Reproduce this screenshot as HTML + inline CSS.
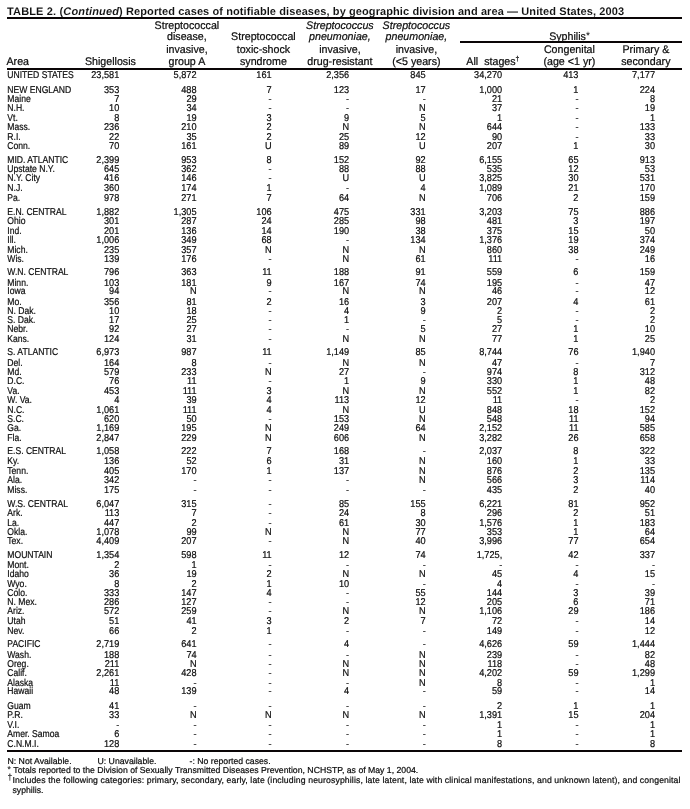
<!DOCTYPE html>
<html><head><meta charset="utf-8"><style>
html,body{margin:0;padding:0;background:#fff;width:690px;height:809px;overflow:hidden}
svg{display:block;will-change:transform}
text{font-family:"Liberation Sans",sans-serif;fill:#111;text-rendering:geometricPrecision}
.tt{font-size:11px;font-weight:bold;stroke:#fff;stroke-width:0.05px;letter-spacing:0.15px}
.hd{font-size:11px;text-anchor:middle;stroke:#000;stroke-width:0.22px}
.hdi{font-size:11px;text-anchor:middle;font-style:italic;stroke:#000;stroke-width:0.22px}
.hdl{font-size:11px;stroke:#000;stroke-width:0.22px}
.sup{font-size:7px}
.sup2{font-size:10.5px;stroke-width:0}
.lb{font-size:9.9px;stroke:#000;stroke-width:0.2px}
.nm{font-size:9.9px;text-anchor:end;stroke:#000;stroke-width:0.2px}
.ft{font-size:8.7px;stroke:#000;stroke-width:0.2px}
.fts{font-size:8.5px;stroke:#000;stroke-width:0.1px}
</style></head><body>
<svg width="690" height="809" viewBox="0 0 690 809">
<text x="7.00" y="15.00" class="tt">TABLE 2. (<tspan font-style="italic">Continued</tspan>)<tspan textLength="501.30" lengthAdjust="spacing"> Reported cases of notifiable diseases, by geographic division and area &#8212; United States, 2003</tspan></text>
<rect x="7" y="17" width="675" height="2" fill="#0a0506"/>
<rect x="460" y="41" width="222" height="2" fill="#0a0506"/>
<rect x="7" y="68" width="675" height="2" fill="#0a0506"/>
<rect x="7" y="750" width="675" height="2" fill="#0a0506"/>
<g transform="scale(0.97,1)">
<text x="6.70" y="64.50" class="hdl">Area</text>
<text x="113.81" y="64.50" class="hd">Shigellosis</text>
<text x="192.68" y="28.80" class="hd">Streptococcal</text>
<text x="192.68" y="39.70" class="hd">disease,</text>
<text x="192.68" y="52.70" class="hd">invasive,</text>
<text x="192.68" y="64.50" class="hd">group A</text>
<text x="271.55" y="39.70" class="hd">Streptococcal</text>
<text x="271.55" y="52.70" class="hd">toxic-shock</text>
<text x="271.55" y="64.50" class="hd">syndrome</text>
<text x="350.41" y="28.80" class="hdi">Streptococcus</text>
<text x="350.41" y="39.70" class="hdi">pneumoniae,</text>
<text x="350.41" y="52.70" class="hd">invasive,</text>
<text x="350.41" y="64.50" class="hd">drug-resistant</text>
<text x="429.28" y="28.80" class="hdi">Streptococcus</text>
<text x="429.28" y="39.70" class="hdi">pneumoniae,</text>
<text x="429.28" y="52.70" class="hd">invasive,</text>
<text x="429.28" y="64.50" class="hd">(&lt;5 years)</text>
<text x="587.11" y="39.70" class="hd">Syphilis<tspan class="sup2" dy="-0.8">*</tspan></text>
<text x="508.14" y="64.50" class="hd">All&#160;&#160;stages<tspan class="sup" dy="-3.5">&#8224;</tspan></text>
<text x="587.01" y="52.70" class="hd">Congenital</text>
<text x="587.01" y="64.50" class="hd">(age &lt;1 yr)</text>
<text x="665.88" y="52.70" class="hd">Primary &amp;</text>
<text x="665.88" y="64.50" class="hd">secondary</text>
</g>
<g transform="scale(0.87,1)">
<text x="8.39" y="78.00" class="lb">UNITED STATES</text>
<text x="8.39" y="93.00" class="lb">NEW ENGLAND</text>
<text x="8.39" y="102.00" class="lb">Maine</text>
<text x="8.39" y="111.00" class="lb">N.H.</text>
<text x="8.39" y="121.00" class="lb">Vt.</text>
<text x="8.39" y="130.00" class="lb">Mass.</text>
<text x="8.39" y="140.00" class="lb">R.I.</text>
<text x="8.39" y="149.00" class="lb">Conn.</text>
<text x="8.39" y="163.00" class="lb">MID. ATLANTIC</text>
<text x="8.39" y="172.00" class="lb">Upstate N.Y.</text>
<text x="8.39" y="181.00" class="lb">N.Y. City</text>
<text x="8.39" y="191.00" class="lb">N.J.</text>
<text x="8.39" y="201.00" class="lb">Pa.</text>
<text x="8.39" y="215.00" class="lb">E.N. CENTRAL</text>
<text x="8.39" y="224.00" class="lb">Ohio</text>
<text x="8.39" y="234.00" class="lb">Ind.</text>
<text x="8.39" y="243.00" class="lb">Ill.</text>
<text x="8.39" y="253.00" class="lb">Mich.</text>
<text x="8.39" y="262.00" class="lb">Wis.</text>
<text x="8.39" y="275.00" class="lb">W.N. CENTRAL</text>
<text x="8.39" y="286.00" class="lb">Minn.</text>
<text x="8.39" y="294.00" class="lb">Iowa</text>
<text x="8.39" y="305.00" class="lb">Mo.</text>
<text x="8.39" y="314.00" class="lb">N. Dak.</text>
<text x="8.39" y="323.00" class="lb">S. Dak.</text>
<text x="8.39" y="332.00" class="lb">Nebr.</text>
<text x="8.39" y="342.00" class="lb">Kans.</text>
<text x="8.39" y="355.00" class="lb">S. ATLANTIC</text>
<text x="8.39" y="366.00" class="lb">Del.</text>
<text x="8.39" y="375.00" class="lb">Md.</text>
<text x="8.39" y="384.00" class="lb">D.C.</text>
<text x="8.39" y="394.00" class="lb">Va.</text>
<text x="8.39" y="403.00" class="lb">W. Va.</text>
<text x="8.39" y="413.00" class="lb">N.C.</text>
<text x="8.39" y="422.00" class="lb">S.C.</text>
<text x="8.39" y="431.00" class="lb">Ga.</text>
<text x="8.39" y="441.00" class="lb">Fla.</text>
<text x="8.39" y="454.00" class="lb">E.S. CENTRAL</text>
<text x="8.39" y="464.00" class="lb">Ky.</text>
<text x="8.39" y="474.00" class="lb">Tenn.</text>
<text x="8.39" y="483.00" class="lb">Ala.</text>
<text x="8.39" y="493.00" class="lb">Miss.</text>
<text x="8.39" y="507.00" class="lb">W.S. CENTRAL</text>
<text x="8.39" y="516.00" class="lb">Ark.</text>
<text x="8.39" y="526.00" class="lb">La.</text>
<text x="8.39" y="535.00" class="lb">Okla.</text>
<text x="8.39" y="544.00" class="lb">Tex.</text>
<text x="8.39" y="558.00" class="lb">MOUNTAIN</text>
<text x="8.39" y="568.00" class="lb">Mont.</text>
<text x="8.39" y="577.00" class="lb">Idaho</text>
<text x="8.39" y="587.00" class="lb">Wyo.</text>
<text x="8.39" y="596.00" class="lb">Colo.</text>
<text x="8.39" y="605.00" class="lb">N. Mex.</text>
<text x="8.39" y="614.00" class="lb">Ariz.</text>
<text x="8.39" y="624.00" class="lb">Utah</text>
<text x="8.39" y="634.00" class="lb">Nev.</text>
<text x="8.39" y="647.00" class="lb">PACIFIC</text>
<text x="8.39" y="658.00" class="lb">Wash.</text>
<text x="8.39" y="667.00" class="lb">Oreg.</text>
<text x="8.39" y="676.00" class="lb">Calif.</text>
<text x="8.39" y="686.00" class="lb">Alaska</text>
<text x="8.39" y="694.00" class="lb">Hawaii</text>
<text x="8.39" y="709.00" class="lb">Guam</text>
<text x="8.39" y="718.00" class="lb">P.R.</text>
<text x="8.39" y="728.00" class="lb">V.I.</text>
<text x="8.39" y="737.00" class="lb">Amer. Samoa</text>
<text x="8.39" y="747.00" class="lb">C.N.M.I.</text>
</g>
<g transform="scale(0.93,1)">
<text x="128.28" y="78.00" class="nm">23,581</text>
<text x="211.40" y="78.00" class="nm">5,872</text>
<text x="292.15" y="78.00" class="nm">161</text>
<text x="375.48" y="78.00" class="nm">2,356</text>
<text x="457.74" y="78.00" class="nm">845</text>
<text x="540.00" y="78.00" class="nm">34,270</text>
<text x="622.04" y="78.00" class="nm">413</text>
<text x="704.30" y="78.00" class="nm">7,177</text>
<text x="128.28" y="93.00" class="nm">353</text>
<text x="211.40" y="93.00" class="nm">488</text>
<text x="292.15" y="93.00" class="nm">7</text>
<text x="375.48" y="93.00" class="nm">123</text>
<text x="457.74" y="93.00" class="nm">17</text>
<text x="540.00" y="93.00" class="nm">1,000</text>
<text x="622.04" y="93.00" class="nm">1</text>
<text x="704.30" y="93.00" class="nm">224</text>
<text x="128.28" y="102.00" class="nm">7</text>
<text x="211.40" y="102.00" class="nm">29</text>
<text x="292.15" y="102.00" class="nm">-</text>
<text x="375.48" y="102.00" class="nm">-</text>
<text x="457.74" y="102.00" class="nm">-</text>
<text x="540.00" y="102.00" class="nm">21</text>
<text x="622.04" y="102.00" class="nm">-</text>
<text x="704.30" y="102.00" class="nm">8</text>
<text x="128.28" y="111.00" class="nm">10</text>
<text x="211.40" y="111.00" class="nm">34</text>
<text x="292.15" y="111.00" class="nm">-</text>
<text x="375.48" y="111.00" class="nm">-</text>
<text x="457.74" y="111.00" class="nm">N</text>
<text x="540.00" y="111.00" class="nm">37</text>
<text x="622.04" y="111.00" class="nm">-</text>
<text x="704.30" y="111.00" class="nm">19</text>
<text x="128.28" y="121.00" class="nm">8</text>
<text x="211.40" y="121.00" class="nm">19</text>
<text x="292.15" y="121.00" class="nm">3</text>
<text x="375.48" y="121.00" class="nm">9</text>
<text x="457.74" y="121.00" class="nm">5</text>
<text x="540.00" y="121.00" class="nm">1</text>
<text x="622.04" y="121.00" class="nm">-</text>
<text x="704.30" y="121.00" class="nm">1</text>
<text x="128.28" y="130.00" class="nm">236</text>
<text x="211.40" y="130.00" class="nm">210</text>
<text x="292.15" y="130.00" class="nm">2</text>
<text x="375.48" y="130.00" class="nm">N</text>
<text x="457.74" y="130.00" class="nm">N</text>
<text x="540.00" y="130.00" class="nm">644</text>
<text x="622.04" y="130.00" class="nm">-</text>
<text x="704.30" y="130.00" class="nm">133</text>
<text x="128.28" y="140.00" class="nm">22</text>
<text x="211.40" y="140.00" class="nm">35</text>
<text x="292.15" y="140.00" class="nm">2</text>
<text x="375.48" y="140.00" class="nm">25</text>
<text x="457.74" y="140.00" class="nm">12</text>
<text x="540.00" y="140.00" class="nm">90</text>
<text x="622.04" y="140.00" class="nm">-</text>
<text x="704.30" y="140.00" class="nm">33</text>
<text x="128.28" y="149.00" class="nm">70</text>
<text x="211.40" y="149.00" class="nm">161</text>
<text x="292.15" y="149.00" class="nm">U</text>
<text x="375.48" y="149.00" class="nm">89</text>
<text x="457.74" y="149.00" class="nm">U</text>
<text x="540.00" y="149.00" class="nm">207</text>
<text x="622.04" y="149.00" class="nm">1</text>
<text x="704.30" y="149.00" class="nm">30</text>
<text x="128.28" y="163.00" class="nm">2,399</text>
<text x="211.40" y="163.00" class="nm">953</text>
<text x="292.15" y="163.00" class="nm">8</text>
<text x="375.48" y="163.00" class="nm">152</text>
<text x="457.74" y="163.00" class="nm">92</text>
<text x="540.00" y="163.00" class="nm">6,155</text>
<text x="622.04" y="163.00" class="nm">65</text>
<text x="704.30" y="163.00" class="nm">913</text>
<text x="128.28" y="172.00" class="nm">645</text>
<text x="211.40" y="172.00" class="nm">362</text>
<text x="292.15" y="172.00" class="nm">-</text>
<text x="375.48" y="172.00" class="nm">88</text>
<text x="457.74" y="172.00" class="nm">88</text>
<text x="540.00" y="172.00" class="nm">535</text>
<text x="622.04" y="172.00" class="nm">12</text>
<text x="704.30" y="172.00" class="nm">53</text>
<text x="128.28" y="181.00" class="nm">416</text>
<text x="211.40" y="181.00" class="nm">146</text>
<text x="292.15" y="181.00" class="nm">-</text>
<text x="375.48" y="181.00" class="nm">U</text>
<text x="457.74" y="181.00" class="nm">U</text>
<text x="540.00" y="181.00" class="nm">3,825</text>
<text x="622.04" y="181.00" class="nm">30</text>
<text x="704.30" y="181.00" class="nm">531</text>
<text x="128.28" y="191.00" class="nm">360</text>
<text x="211.40" y="191.00" class="nm">174</text>
<text x="292.15" y="191.00" class="nm">1</text>
<text x="375.48" y="191.00" class="nm">-</text>
<text x="457.74" y="191.00" class="nm">4</text>
<text x="540.00" y="191.00" class="nm">1,089</text>
<text x="622.04" y="191.00" class="nm">21</text>
<text x="704.30" y="191.00" class="nm">170</text>
<text x="128.28" y="201.00" class="nm">978</text>
<text x="211.40" y="201.00" class="nm">271</text>
<text x="292.15" y="201.00" class="nm">7</text>
<text x="375.48" y="201.00" class="nm">64</text>
<text x="457.74" y="201.00" class="nm">N</text>
<text x="540.00" y="201.00" class="nm">706</text>
<text x="622.04" y="201.00" class="nm">2</text>
<text x="704.30" y="201.00" class="nm">159</text>
<text x="128.28" y="215.00" class="nm">1,882</text>
<text x="211.40" y="215.00" class="nm">1,305</text>
<text x="292.15" y="215.00" class="nm">106</text>
<text x="375.48" y="215.00" class="nm">475</text>
<text x="457.74" y="215.00" class="nm">331</text>
<text x="540.00" y="215.00" class="nm">3,203</text>
<text x="622.04" y="215.00" class="nm">75</text>
<text x="704.30" y="215.00" class="nm">886</text>
<text x="128.28" y="224.00" class="nm">301</text>
<text x="211.40" y="224.00" class="nm">287</text>
<text x="292.15" y="224.00" class="nm">24</text>
<text x="375.48" y="224.00" class="nm">285</text>
<text x="457.74" y="224.00" class="nm">98</text>
<text x="540.00" y="224.00" class="nm">481</text>
<text x="622.04" y="224.00" class="nm">3</text>
<text x="704.30" y="224.00" class="nm">197</text>
<text x="128.28" y="234.00" class="nm">201</text>
<text x="211.40" y="234.00" class="nm">136</text>
<text x="292.15" y="234.00" class="nm">14</text>
<text x="375.48" y="234.00" class="nm">190</text>
<text x="457.74" y="234.00" class="nm">38</text>
<text x="540.00" y="234.00" class="nm">375</text>
<text x="622.04" y="234.00" class="nm">15</text>
<text x="704.30" y="234.00" class="nm">50</text>
<text x="128.28" y="243.00" class="nm">1,006</text>
<text x="211.40" y="243.00" class="nm">349</text>
<text x="292.15" y="243.00" class="nm">68</text>
<text x="375.48" y="243.00" class="nm">-</text>
<text x="457.74" y="243.00" class="nm">134</text>
<text x="540.00" y="243.00" class="nm">1,376</text>
<text x="622.04" y="243.00" class="nm">19</text>
<text x="704.30" y="243.00" class="nm">374</text>
<text x="128.28" y="253.00" class="nm">235</text>
<text x="211.40" y="253.00" class="nm">357</text>
<text x="292.15" y="253.00" class="nm">N</text>
<text x="375.48" y="253.00" class="nm">N</text>
<text x="457.74" y="253.00" class="nm">N</text>
<text x="540.00" y="253.00" class="nm">860</text>
<text x="622.04" y="253.00" class="nm">38</text>
<text x="704.30" y="253.00" class="nm">249</text>
<text x="128.28" y="262.00" class="nm">139</text>
<text x="211.40" y="262.00" class="nm">176</text>
<text x="292.15" y="262.00" class="nm">-</text>
<text x="375.48" y="262.00" class="nm">N</text>
<text x="457.74" y="262.00" class="nm">61</text>
<text x="540.00" y="262.00" class="nm">111</text>
<text x="622.04" y="262.00" class="nm">-</text>
<text x="704.30" y="262.00" class="nm">16</text>
<text x="128.28" y="275.00" class="nm">796</text>
<text x="211.40" y="275.00" class="nm">363</text>
<text x="292.15" y="275.00" class="nm">11</text>
<text x="375.48" y="275.00" class="nm">188</text>
<text x="457.74" y="275.00" class="nm">91</text>
<text x="540.00" y="275.00" class="nm">559</text>
<text x="622.04" y="275.00" class="nm">6</text>
<text x="704.30" y="275.00" class="nm">159</text>
<text x="128.28" y="286.00" class="nm">103</text>
<text x="211.40" y="286.00" class="nm">181</text>
<text x="292.15" y="286.00" class="nm">9</text>
<text x="375.48" y="286.00" class="nm">167</text>
<text x="457.74" y="286.00" class="nm">74</text>
<text x="540.00" y="286.00" class="nm">195</text>
<text x="622.04" y="286.00" class="nm">-</text>
<text x="704.30" y="286.00" class="nm">47</text>
<text x="128.28" y="294.00" class="nm">94</text>
<text x="211.40" y="294.00" class="nm">N</text>
<text x="292.15" y="294.00" class="nm">-</text>
<text x="375.48" y="294.00" class="nm">N</text>
<text x="457.74" y="294.00" class="nm">N</text>
<text x="540.00" y="294.00" class="nm">46</text>
<text x="622.04" y="294.00" class="nm">-</text>
<text x="704.30" y="294.00" class="nm">12</text>
<text x="128.28" y="305.00" class="nm">356</text>
<text x="211.40" y="305.00" class="nm">81</text>
<text x="292.15" y="305.00" class="nm">2</text>
<text x="375.48" y="305.00" class="nm">16</text>
<text x="457.74" y="305.00" class="nm">3</text>
<text x="540.00" y="305.00" class="nm">207</text>
<text x="622.04" y="305.00" class="nm">4</text>
<text x="704.30" y="305.00" class="nm">61</text>
<text x="128.28" y="314.00" class="nm">10</text>
<text x="211.40" y="314.00" class="nm">18</text>
<text x="292.15" y="314.00" class="nm">-</text>
<text x="375.48" y="314.00" class="nm">4</text>
<text x="457.74" y="314.00" class="nm">9</text>
<text x="540.00" y="314.00" class="nm">2</text>
<text x="622.04" y="314.00" class="nm">-</text>
<text x="704.30" y="314.00" class="nm">2</text>
<text x="128.28" y="323.00" class="nm">17</text>
<text x="211.40" y="323.00" class="nm">25</text>
<text x="292.15" y="323.00" class="nm">-</text>
<text x="375.48" y="323.00" class="nm">1</text>
<text x="457.74" y="323.00" class="nm">-</text>
<text x="540.00" y="323.00" class="nm">5</text>
<text x="622.04" y="323.00" class="nm">-</text>
<text x="704.30" y="323.00" class="nm">2</text>
<text x="128.28" y="332.00" class="nm">92</text>
<text x="211.40" y="332.00" class="nm">27</text>
<text x="292.15" y="332.00" class="nm">-</text>
<text x="375.48" y="332.00" class="nm">-</text>
<text x="457.74" y="332.00" class="nm">5</text>
<text x="540.00" y="332.00" class="nm">27</text>
<text x="622.04" y="332.00" class="nm">1</text>
<text x="704.30" y="332.00" class="nm">10</text>
<text x="128.28" y="342.00" class="nm">124</text>
<text x="211.40" y="342.00" class="nm">31</text>
<text x="292.15" y="342.00" class="nm">-</text>
<text x="375.48" y="342.00" class="nm">N</text>
<text x="457.74" y="342.00" class="nm">N</text>
<text x="540.00" y="342.00" class="nm">77</text>
<text x="622.04" y="342.00" class="nm">1</text>
<text x="704.30" y="342.00" class="nm">25</text>
<text x="128.28" y="355.00" class="nm">6,973</text>
<text x="211.40" y="355.00" class="nm">987</text>
<text x="292.15" y="355.00" class="nm">11</text>
<text x="375.48" y="355.00" class="nm">1,149</text>
<text x="457.74" y="355.00" class="nm">85</text>
<text x="540.00" y="355.00" class="nm">8,744</text>
<text x="622.04" y="355.00" class="nm">76</text>
<text x="704.30" y="355.00" class="nm">1,940</text>
<text x="128.28" y="366.00" class="nm">164</text>
<text x="211.40" y="366.00" class="nm">8</text>
<text x="292.15" y="366.00" class="nm">-</text>
<text x="375.48" y="366.00" class="nm">N</text>
<text x="457.74" y="366.00" class="nm">N</text>
<text x="540.00" y="366.00" class="nm">47</text>
<text x="622.04" y="366.00" class="nm">-</text>
<text x="704.30" y="366.00" class="nm">7</text>
<text x="128.28" y="375.00" class="nm">579</text>
<text x="211.40" y="375.00" class="nm">233</text>
<text x="292.15" y="375.00" class="nm">N</text>
<text x="375.48" y="375.00" class="nm">27</text>
<text x="457.74" y="375.00" class="nm">-</text>
<text x="540.00" y="375.00" class="nm">974</text>
<text x="622.04" y="375.00" class="nm">8</text>
<text x="704.30" y="375.00" class="nm">312</text>
<text x="128.28" y="384.00" class="nm">76</text>
<text x="211.40" y="384.00" class="nm">11</text>
<text x="292.15" y="384.00" class="nm">-</text>
<text x="375.48" y="384.00" class="nm">1</text>
<text x="457.74" y="384.00" class="nm">9</text>
<text x="540.00" y="384.00" class="nm">330</text>
<text x="622.04" y="384.00" class="nm">1</text>
<text x="704.30" y="384.00" class="nm">48</text>
<text x="128.28" y="394.00" class="nm">453</text>
<text x="211.40" y="394.00" class="nm">111</text>
<text x="292.15" y="394.00" class="nm">3</text>
<text x="375.48" y="394.00" class="nm">N</text>
<text x="457.74" y="394.00" class="nm">N</text>
<text x="540.00" y="394.00" class="nm">552</text>
<text x="622.04" y="394.00" class="nm">1</text>
<text x="704.30" y="394.00" class="nm">82</text>
<text x="128.28" y="403.00" class="nm">4</text>
<text x="211.40" y="403.00" class="nm">39</text>
<text x="292.15" y="403.00" class="nm">4</text>
<text x="375.48" y="403.00" class="nm">113</text>
<text x="457.74" y="403.00" class="nm">12</text>
<text x="540.00" y="403.00" class="nm">11</text>
<text x="622.04" y="403.00" class="nm">-</text>
<text x="704.30" y="403.00" class="nm">2</text>
<text x="128.28" y="413.00" class="nm">1,061</text>
<text x="211.40" y="413.00" class="nm">111</text>
<text x="292.15" y="413.00" class="nm">4</text>
<text x="375.48" y="413.00" class="nm">N</text>
<text x="457.74" y="413.00" class="nm">U</text>
<text x="540.00" y="413.00" class="nm">848</text>
<text x="622.04" y="413.00" class="nm">18</text>
<text x="704.30" y="413.00" class="nm">152</text>
<text x="128.28" y="422.00" class="nm">620</text>
<text x="211.40" y="422.00" class="nm">50</text>
<text x="292.15" y="422.00" class="nm">-</text>
<text x="375.48" y="422.00" class="nm">153</text>
<text x="457.74" y="422.00" class="nm">N</text>
<text x="540.00" y="422.00" class="nm">548</text>
<text x="622.04" y="422.00" class="nm">11</text>
<text x="704.30" y="422.00" class="nm">94</text>
<text x="128.28" y="431.00" class="nm">1,169</text>
<text x="211.40" y="431.00" class="nm">195</text>
<text x="292.15" y="431.00" class="nm">N</text>
<text x="375.48" y="431.00" class="nm">249</text>
<text x="457.74" y="431.00" class="nm">64</text>
<text x="540.00" y="431.00" class="nm">2,152</text>
<text x="622.04" y="431.00" class="nm">11</text>
<text x="704.30" y="431.00" class="nm">585</text>
<text x="128.28" y="441.00" class="nm">2,847</text>
<text x="211.40" y="441.00" class="nm">229</text>
<text x="292.15" y="441.00" class="nm">N</text>
<text x="375.48" y="441.00" class="nm">606</text>
<text x="457.74" y="441.00" class="nm">N</text>
<text x="540.00" y="441.00" class="nm">3,282</text>
<text x="622.04" y="441.00" class="nm">26</text>
<text x="704.30" y="441.00" class="nm">658</text>
<text x="128.28" y="454.00" class="nm">1,058</text>
<text x="211.40" y="454.00" class="nm">222</text>
<text x="292.15" y="454.00" class="nm">7</text>
<text x="375.48" y="454.00" class="nm">168</text>
<text x="457.74" y="454.00" class="nm">-</text>
<text x="540.00" y="454.00" class="nm">2,037</text>
<text x="622.04" y="454.00" class="nm">8</text>
<text x="704.30" y="454.00" class="nm">322</text>
<text x="128.28" y="464.00" class="nm">136</text>
<text x="211.40" y="464.00" class="nm">52</text>
<text x="292.15" y="464.00" class="nm">6</text>
<text x="375.48" y="464.00" class="nm">31</text>
<text x="457.74" y="464.00" class="nm">N</text>
<text x="540.00" y="464.00" class="nm">160</text>
<text x="622.04" y="464.00" class="nm">1</text>
<text x="704.30" y="464.00" class="nm">33</text>
<text x="128.28" y="474.00" class="nm">405</text>
<text x="211.40" y="474.00" class="nm">170</text>
<text x="292.15" y="474.00" class="nm">1</text>
<text x="375.48" y="474.00" class="nm">137</text>
<text x="457.74" y="474.00" class="nm">N</text>
<text x="540.00" y="474.00" class="nm">876</text>
<text x="622.04" y="474.00" class="nm">2</text>
<text x="704.30" y="474.00" class="nm">135</text>
<text x="128.28" y="483.00" class="nm">342</text>
<text x="211.40" y="483.00" class="nm">-</text>
<text x="292.15" y="483.00" class="nm">-</text>
<text x="375.48" y="483.00" class="nm">-</text>
<text x="457.74" y="483.00" class="nm">N</text>
<text x="540.00" y="483.00" class="nm">566</text>
<text x="622.04" y="483.00" class="nm">3</text>
<text x="704.30" y="483.00" class="nm">114</text>
<text x="128.28" y="493.00" class="nm">175</text>
<text x="211.40" y="493.00" class="nm">-</text>
<text x="292.15" y="493.00" class="nm">-</text>
<text x="375.48" y="493.00" class="nm">-</text>
<text x="457.74" y="493.00" class="nm">-</text>
<text x="540.00" y="493.00" class="nm">435</text>
<text x="622.04" y="493.00" class="nm">2</text>
<text x="704.30" y="493.00" class="nm">40</text>
<text x="128.28" y="507.00" class="nm">6,047</text>
<text x="211.40" y="507.00" class="nm">315</text>
<text x="292.15" y="507.00" class="nm">-</text>
<text x="375.48" y="507.00" class="nm">85</text>
<text x="457.74" y="507.00" class="nm">155</text>
<text x="540.00" y="507.00" class="nm">6,221</text>
<text x="622.04" y="507.00" class="nm">81</text>
<text x="704.30" y="507.00" class="nm">952</text>
<text x="128.28" y="516.00" class="nm">113</text>
<text x="211.40" y="516.00" class="nm">7</text>
<text x="292.15" y="516.00" class="nm">-</text>
<text x="375.48" y="516.00" class="nm">24</text>
<text x="457.74" y="516.00" class="nm">8</text>
<text x="540.00" y="516.00" class="nm">296</text>
<text x="622.04" y="516.00" class="nm">2</text>
<text x="704.30" y="516.00" class="nm">51</text>
<text x="128.28" y="526.00" class="nm">447</text>
<text x="211.40" y="526.00" class="nm">2</text>
<text x="292.15" y="526.00" class="nm">-</text>
<text x="375.48" y="526.00" class="nm">61</text>
<text x="457.74" y="526.00" class="nm">30</text>
<text x="540.00" y="526.00" class="nm">1,576</text>
<text x="622.04" y="526.00" class="nm">1</text>
<text x="704.30" y="526.00" class="nm">183</text>
<text x="128.28" y="535.00" class="nm">1,078</text>
<text x="211.40" y="535.00" class="nm">99</text>
<text x="292.15" y="535.00" class="nm">N</text>
<text x="375.48" y="535.00" class="nm">N</text>
<text x="457.74" y="535.00" class="nm">77</text>
<text x="540.00" y="535.00" class="nm">353</text>
<text x="622.04" y="535.00" class="nm">1</text>
<text x="704.30" y="535.00" class="nm">64</text>
<text x="128.28" y="544.00" class="nm">4,409</text>
<text x="211.40" y="544.00" class="nm">207</text>
<text x="292.15" y="544.00" class="nm">-</text>
<text x="375.48" y="544.00" class="nm">N</text>
<text x="457.74" y="544.00" class="nm">40</text>
<text x="540.00" y="544.00" class="nm">3,996</text>
<text x="622.04" y="544.00" class="nm">77</text>
<text x="704.30" y="544.00" class="nm">654</text>
<text x="128.28" y="558.00" class="nm">1,354</text>
<text x="211.40" y="558.00" class="nm">598</text>
<text x="292.15" y="558.00" class="nm">11</text>
<text x="375.48" y="558.00" class="nm">12</text>
<text x="457.74" y="558.00" class="nm">74</text>
<text x="540.00" y="558.00" class="nm">1,725,</text>
<text x="622.04" y="558.00" class="nm">42</text>
<text x="704.30" y="558.00" class="nm">337</text>
<text x="128.28" y="568.00" class="nm">2</text>
<text x="211.40" y="568.00" class="nm">1</text>
<text x="292.15" y="568.00" class="nm">-</text>
<text x="375.48" y="568.00" class="nm">-</text>
<text x="457.74" y="568.00" class="nm">-</text>
<text x="540.00" y="568.00" class="nm">-</text>
<text x="622.04" y="568.00" class="nm">-</text>
<text x="704.30" y="568.00" class="nm">-</text>
<text x="128.28" y="577.00" class="nm">36</text>
<text x="211.40" y="577.00" class="nm">19</text>
<text x="292.15" y="577.00" class="nm">2</text>
<text x="375.48" y="577.00" class="nm">N</text>
<text x="457.74" y="577.00" class="nm">N</text>
<text x="540.00" y="577.00" class="nm">45</text>
<text x="622.04" y="577.00" class="nm">4</text>
<text x="704.30" y="577.00" class="nm">15</text>
<text x="128.28" y="587.00" class="nm">8</text>
<text x="211.40" y="587.00" class="nm">2</text>
<text x="292.15" y="587.00" class="nm">1</text>
<text x="375.48" y="587.00" class="nm">10</text>
<text x="457.74" y="587.00" class="nm">-</text>
<text x="540.00" y="587.00" class="nm">4</text>
<text x="622.04" y="587.00" class="nm">-</text>
<text x="704.30" y="587.00" class="nm">-</text>
<text x="128.28" y="596.00" class="nm">333</text>
<text x="211.40" y="596.00" class="nm">147</text>
<text x="292.15" y="596.00" class="nm">4</text>
<text x="375.48" y="596.00" class="nm">-</text>
<text x="457.74" y="596.00" class="nm">55</text>
<text x="540.00" y="596.00" class="nm">144</text>
<text x="622.04" y="596.00" class="nm">3</text>
<text x="704.30" y="596.00" class="nm">39</text>
<text x="128.28" y="605.00" class="nm">286</text>
<text x="211.40" y="605.00" class="nm">127</text>
<text x="292.15" y="605.00" class="nm">-</text>
<text x="375.48" y="605.00" class="nm">-</text>
<text x="457.74" y="605.00" class="nm">12</text>
<text x="540.00" y="605.00" class="nm">205</text>
<text x="622.04" y="605.00" class="nm">6</text>
<text x="704.30" y="605.00" class="nm">71</text>
<text x="128.28" y="614.00" class="nm">572</text>
<text x="211.40" y="614.00" class="nm">259</text>
<text x="292.15" y="614.00" class="nm">-</text>
<text x="375.48" y="614.00" class="nm">N</text>
<text x="457.74" y="614.00" class="nm">N</text>
<text x="540.00" y="614.00" class="nm">1,106</text>
<text x="622.04" y="614.00" class="nm">29</text>
<text x="704.30" y="614.00" class="nm">186</text>
<text x="128.28" y="624.00" class="nm">51</text>
<text x="211.40" y="624.00" class="nm">41</text>
<text x="292.15" y="624.00" class="nm">3</text>
<text x="375.48" y="624.00" class="nm">2</text>
<text x="457.74" y="624.00" class="nm">7</text>
<text x="540.00" y="624.00" class="nm">72</text>
<text x="622.04" y="624.00" class="nm">-</text>
<text x="704.30" y="624.00" class="nm">14</text>
<text x="128.28" y="634.00" class="nm">66</text>
<text x="211.40" y="634.00" class="nm">2</text>
<text x="292.15" y="634.00" class="nm">1</text>
<text x="375.48" y="634.00" class="nm">-</text>
<text x="457.74" y="634.00" class="nm">-</text>
<text x="540.00" y="634.00" class="nm">149</text>
<text x="622.04" y="634.00" class="nm">-</text>
<text x="704.30" y="634.00" class="nm">12</text>
<text x="128.28" y="647.00" class="nm">2,719</text>
<text x="211.40" y="647.00" class="nm">641</text>
<text x="292.15" y="647.00" class="nm">-</text>
<text x="375.48" y="647.00" class="nm">4</text>
<text x="457.74" y="647.00" class="nm">-</text>
<text x="540.00" y="647.00" class="nm">4,626</text>
<text x="622.04" y="647.00" class="nm">59</text>
<text x="704.30" y="647.00" class="nm">1,444</text>
<text x="128.28" y="658.00" class="nm">188</text>
<text x="211.40" y="658.00" class="nm">74</text>
<text x="292.15" y="658.00" class="nm">-</text>
<text x="375.48" y="658.00" class="nm">-</text>
<text x="457.74" y="658.00" class="nm">N</text>
<text x="540.00" y="658.00" class="nm">239</text>
<text x="622.04" y="658.00" class="nm">-</text>
<text x="704.30" y="658.00" class="nm">82</text>
<text x="128.28" y="667.00" class="nm">211</text>
<text x="211.40" y="667.00" class="nm">N</text>
<text x="292.15" y="667.00" class="nm">-</text>
<text x="375.48" y="667.00" class="nm">N</text>
<text x="457.74" y="667.00" class="nm">N</text>
<text x="540.00" y="667.00" class="nm">118</text>
<text x="622.04" y="667.00" class="nm">-</text>
<text x="704.30" y="667.00" class="nm">48</text>
<text x="128.28" y="676.00" class="nm">2,261</text>
<text x="211.40" y="676.00" class="nm">428</text>
<text x="292.15" y="676.00" class="nm">-</text>
<text x="375.48" y="676.00" class="nm">N</text>
<text x="457.74" y="676.00" class="nm">N</text>
<text x="540.00" y="676.00" class="nm">4,202</text>
<text x="622.04" y="676.00" class="nm">59</text>
<text x="704.30" y="676.00" class="nm">1,299</text>
<text x="128.28" y="686.00" class="nm">11</text>
<text x="211.40" y="686.00" class="nm">-</text>
<text x="292.15" y="686.00" class="nm">-</text>
<text x="375.48" y="686.00" class="nm">-</text>
<text x="457.74" y="686.00" class="nm">N</text>
<text x="540.00" y="686.00" class="nm">8</text>
<text x="622.04" y="686.00" class="nm">-</text>
<text x="704.30" y="686.00" class="nm">1</text>
<text x="128.28" y="694.00" class="nm">48</text>
<text x="211.40" y="694.00" class="nm">139</text>
<text x="292.15" y="694.00" class="nm">-</text>
<text x="375.48" y="694.00" class="nm">4</text>
<text x="457.74" y="694.00" class="nm">-</text>
<text x="540.00" y="694.00" class="nm">59</text>
<text x="622.04" y="694.00" class="nm">-</text>
<text x="704.30" y="694.00" class="nm">14</text>
<text x="128.28" y="709.00" class="nm">41</text>
<text x="211.40" y="709.00" class="nm">-</text>
<text x="292.15" y="709.00" class="nm">-</text>
<text x="375.48" y="709.00" class="nm">-</text>
<text x="457.74" y="709.00" class="nm">-</text>
<text x="540.00" y="709.00" class="nm">2</text>
<text x="622.04" y="709.00" class="nm">1</text>
<text x="704.30" y="709.00" class="nm">1</text>
<text x="128.28" y="718.00" class="nm">33</text>
<text x="211.40" y="718.00" class="nm">N</text>
<text x="292.15" y="718.00" class="nm">N</text>
<text x="375.48" y="718.00" class="nm">N</text>
<text x="457.74" y="718.00" class="nm">N</text>
<text x="540.00" y="718.00" class="nm">1,391</text>
<text x="622.04" y="718.00" class="nm">15</text>
<text x="704.30" y="718.00" class="nm">204</text>
<text x="128.28" y="728.00" class="nm">-</text>
<text x="211.40" y="728.00" class="nm">-</text>
<text x="292.15" y="728.00" class="nm">-</text>
<text x="375.48" y="728.00" class="nm">-</text>
<text x="457.74" y="728.00" class="nm">-</text>
<text x="540.00" y="728.00" class="nm">1</text>
<text x="622.04" y="728.00" class="nm">-</text>
<text x="704.30" y="728.00" class="nm">1</text>
<text x="128.28" y="737.00" class="nm">6</text>
<text x="211.40" y="737.00" class="nm">-</text>
<text x="292.15" y="737.00" class="nm">-</text>
<text x="375.48" y="737.00" class="nm">-</text>
<text x="457.74" y="737.00" class="nm">-</text>
<text x="540.00" y="737.00" class="nm">1</text>
<text x="622.04" y="737.00" class="nm">-</text>
<text x="704.30" y="737.00" class="nm">1</text>
<text x="128.28" y="747.00" class="nm">128</text>
<text x="211.40" y="747.00" class="nm">-</text>
<text x="292.15" y="747.00" class="nm">-</text>
<text x="375.48" y="747.00" class="nm">-</text>
<text x="457.74" y="747.00" class="nm">-</text>
<text x="540.00" y="747.00" class="nm">8</text>
<text x="622.04" y="747.00" class="nm">-</text>
<text x="704.30" y="747.00" class="nm">8</text>
</g>
<text x="7.50" y="763.70" class="ft">N: Not Available.</text>
<text x="97.50" y="763.70" class="ft">U: Unavailable.</text>
<text x="189.50" y="763.70" class="ft">-: No reported cases.</text>
<text x="7.50" y="771.50" class="fts">*</text>
<text x="13.30" y="772.70" class="ft">Totals reported to the Division of Sexually Transmitted Diseases Prevention, NCHSTP, as of May 1, 2004.</text>
<text x="7.50" y="780.10" class="fts">&#8224;</text>
<text x="12.50" y="782.60" class="ft" textLength="668.00" lengthAdjust="spacing">Includes the following categories: primary, secondary, early, late (including neurosyphilis, late latent, late with clinical manifestations, and unknown latent), and congenital</text>
<text x="12.50" y="792.60" class="ft">syphilis.</text>
</svg>
</body></html>
